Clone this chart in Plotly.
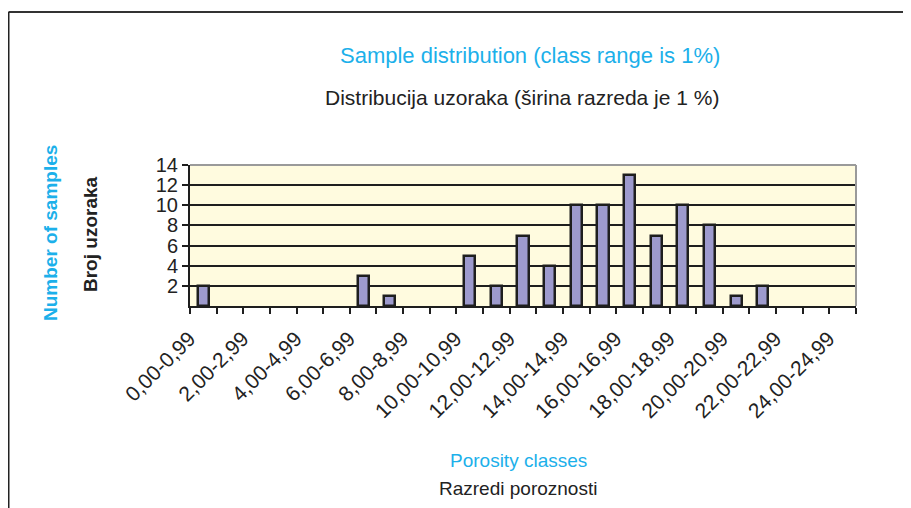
import plotly.graph_objects as go

classes = [f"{i},00-{i},99" for i in range(25)]
counts = [2, 0, 0, 0, 0, 0, 3, 1, 0, 0, 5, 2, 7, 4, 10, 10, 13, 7, 10, 8, 1, 2, 0, 0, 0]
y_ticks = [2, 4, 6, 8, 10, 12, 14]

OFF = 8  # page body margin
W, H = 911 - OFF, 508 - OFF
L, R, T, B = 190 - OFF, 911 - 856, 165 - OFF, 508 - 306
pw, ph = W - L - R, H - T - B

def px(x):  # page pixel -> paper x
    return (x - OFF - L) / pw

def py(y):  # page pixel -> paper y
    return (H - B - (y - OFF)) / ph

FONT = "Liberation Sans, Arial, sans-serif"
CYAN = "#1cb0ea"

xs = list(range(len(classes)))
fig = go.Figure()
fig.add_trace(go.Bar(
    x=xs, y=[c if c else None for c in counts], width=0.42,
    marker=dict(color="#9d9acd", line=dict(color="#1e1e1e", width=2.5)),
))

fig.update_layout(
    width=W, height=H,
    margin=dict(l=L, r=R, t=T, b=B),
    paper_bgcolor="white",
    plot_bgcolor="#fffbdf",
    showlegend=False,
    font=dict(family=FONT, color="#222"),
    bargap=0,
)
fig.update_xaxes(
    range=[-0.5, len(classes) - 0.5],
    tickvals=xs[::2], ticktext=classes[::2],
    tickangle=-45, tickfont=dict(size=21, color="#222"),
    ticklabelshift=-14, ticklabelstandoff=10,
    ticks="", showgrid=False, zeroline=False,
    showline=True, linecolor="#1e1e1e", linewidth=2,
    minor=dict(tickvals=[i - 0.5 for i in range(len(classes) + 1)],
               ticks="outside", ticklen=6, tickcolor="#1e1e1e", tickwidth=1.5, showgrid=False),
)
fig.update_yaxes(
    range=[0, 14],
    tickvals=y_ticks, tickfont=dict(size=20, color="#222"),
    ticks="outside", ticklen=6, tickcolor="#1e1e1e", tickwidth=1.5,
    showgrid=True, gridcolor="#1e1e1e", gridwidth=1.5,
    zeroline=False,
    showline=True, linecolor="#1e1e1e", linewidth=2,
)

# gray frame top/right of plot area
fig.add_shape(type="line", xref="paper", yref="paper", x0=0, x1=1, y0=1, y1=1,
              line=dict(color="#9a9a9a", width=2))
fig.add_shape(type="line", xref="paper", yref="paper", x0=1, x1=1, y0=0, y1=1,
              line=dict(color="#9a9a9a", width=2))
# figure frame (left and top)
fig.add_shape(type="line", xref="paper", yref="paper", x0=px(8.5), x1=px(920), y0=py(12), y1=py(12),
              line=dict(color="#333", width=2))
fig.add_shape(type="line", xref="paper", yref="paper", x0=px(8.5), x1=px(8.5), y0=py(12), y1=py(520),
              line=dict(color="#222", width=2))

ann = [
    ("Sample distribution (class range is 1%)", 530, 55, 22, CYAN, 0),
    ("Distribucija uzoraka (širina razreda je 1 %)", 522, 97, 21, "#222", 0),
    ("Porosity classes", 518, 460, 19, CYAN, 0),
    ("Razredi poroznosti", 518, 488, 19, "#222", 0),
    ("<b>Number of samples</b>", 50, 233, 19, CYAN, -90),
    ("<b>Broj uzoraka</b>", 90, 234, 19, "#222", -90),
]
for text, x, y, size, color, ang in ann:
    fig.add_annotation(text=text, xref="paper", yref="paper", x=px(x), y=py(y),
                       xanchor="center", yanchor="middle", showarrow=False,
                       textangle=ang, font=dict(size=size, color=color, family=FONT))

fig.write_html("out.html")
